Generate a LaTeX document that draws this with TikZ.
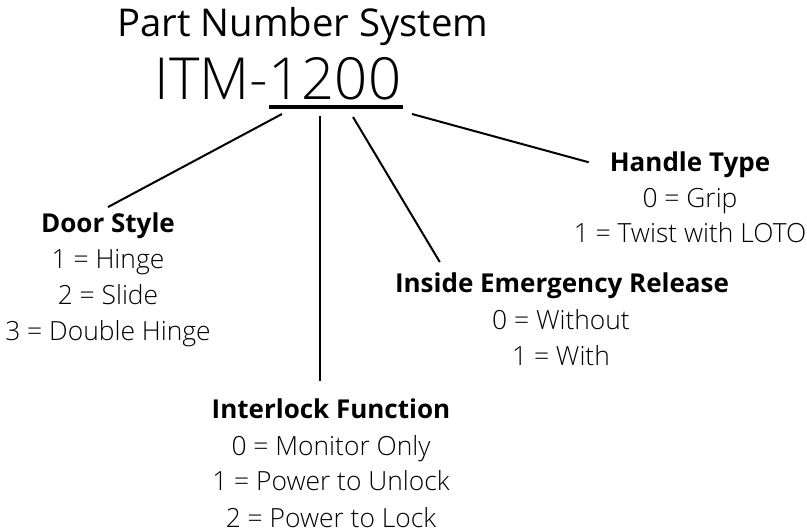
\documentclass[tikz,border=0pt]{standalone}
\usepackage{fontspec}
\setmainfont{Open Sans}
\IfFontExistsTF{Open Sans Light}{\newfontfamily\lightfont{Open Sans Light}}{\newfontfamily\lightfont{Open Sans}}
\usetikzlibrary{calc}
\begin{document}
\begin{tikzpicture}[x=1pt,y=-1pt,
  head/.style={font=\fontsize{26}{30}\selectfont\bfseries, anchor=base, inner sep=0pt},
  val/.style={font=\lightfont\fontsize{26.4}{30}\selectfont, anchor=base, inner sep=0pt},
  conn/.style={line width=2pt, black}]
\useasboundingbox (0,0) rectangle (807,532);
\fill[white] (0,0) rectangle (807,532);
% title
\node[anchor=base, inner sep=0pt, font=\fontsize{38.3}{44}\selectfont] (title) at (303,37) {Part Number System};
\node[anchor=base, inner sep=0pt, font=\lightfont\fontsize{58}{70}\selectfont] (itm) at (278,100) {ITM-1200};
\coordinate (ul) at (269,107);
\coordinate (ur) at (403,107);
\draw[line width=3.5pt] (ul) -- (ur);
\coordinate (s1) at (282,114);
\coordinate (s2) at (320,116);
\coordinate (s3) at (353,117);
\coordinate (s4) at (412,114);
% door style
\node[head] (ds) at (108,233) {Door Style};
\node[val] (ds1) at (108,269) {1 = Hinge};
\node[val] (ds2) at (108,305) {2 = Slide};
\node[val] (ds3) at (108,340) {3 = Double Hinge};
% handle type
\node[head] (ht) at (690,172) {Handle Type};
\node[val] (ht1) at (690,208) {0 = Grip};
\node[val] (ht2) at (690,243) {1 = Twist with LOTO};
% inside emergency release
\node[head] (ier) at (562,293) {Inside Emergency Release};
\node[val] (ier1) at (561,330) {0 = Without};
\node[val] (ier2) at (561,365) {1 = With};
% interlock function
\node[head] (if) at (331,418) {Interlock Function};
\node[val] (if1) at (331,455) {0 = Monitor Only};
\node[val] (if2) at (331,490) {1 = Power to Unlock};
\node[val] (if3) at (331,527) {2 = Power to Lock};
% connectors
\draw[conn] (s1) -- ($(ds.north)+(0,-6)$);
\draw[conn] (s2) -- ($(s2 |- if.north)+(0,-17)$);
\draw[conn] (s3) -- ($(ier.north west)+(45,-11)$);
\draw[conn] (s4) -- ($(ht.west)+(-21,-3)$);
\end{tikzpicture}
\end{document}
